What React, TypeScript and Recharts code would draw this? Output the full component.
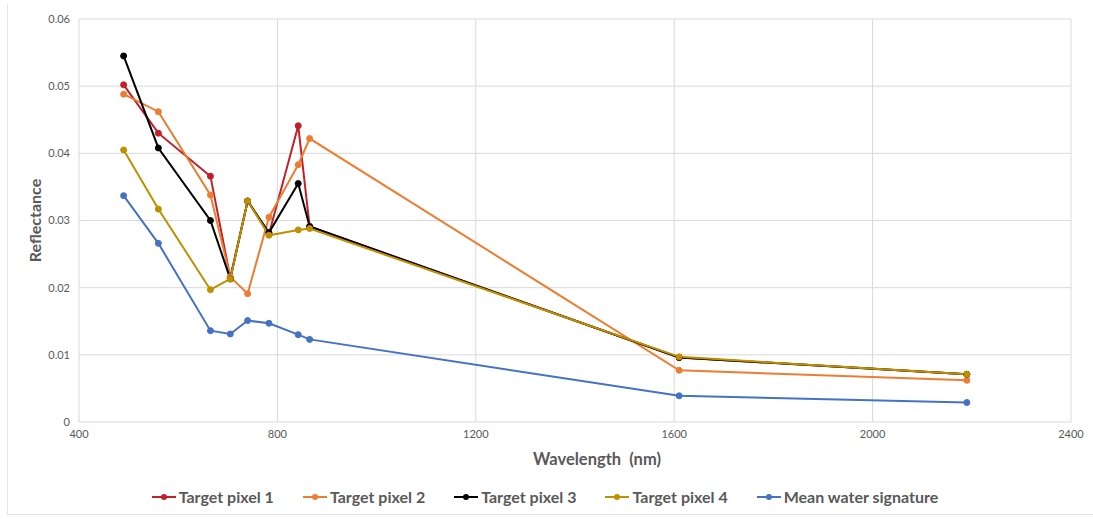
import { LineChart, Line, XAxis, YAxis, CartesianGrid, Legend } from "recharts";

// Sentinel-2 band centres (nm)
const wavelengths = [490, 560, 665, 705, 740, 783, 842, 865, 1610, 2190];

const targetPixel1 = [0.0502, 0.043, 0.0366, 0.0215, 0.0329, 0.028, 0.0441, 0.0291, 0.0096, 0.0071];
const targetPixel2 = [0.0488, 0.0462, 0.0338, 0.0216, 0.0191, 0.0305, 0.0383, 0.0422, 0.0077, 0.0062];
const targetPixel3 = [0.0545, 0.0408, 0.03, 0.0213, 0.0329, 0.0282, 0.0355, 0.0291, 0.0096, 0.0071];
const targetPixel4 = [0.0405, 0.0317, 0.0197, 0.0213, 0.0329, 0.0278, 0.0286, 0.0288, 0.0097, 0.0071];
const meanWater = [0.0337, 0.0266, 0.0136, 0.0131, 0.0151, 0.0147, 0.013, 0.0123, 0.0039, 0.0029];

const xTicks = [400, 800, 1200, 1600, 2000, 2400];
const yTicks = [0, 0.01, 0.02, 0.03, 0.04, 0.05, 0.06];

const series = [
  { key: "p1", name: "Target pixel 1", color: "#c0202a", values: targetPixel1 },
  { key: "p2", name: "Target pixel 2", color: "#ed7d31", values: targetPixel2 },
  { key: "p3", name: "Target pixel 3", color: "#000000", values: targetPixel3 },
  { key: "p4", name: "Target pixel 4", color: "#bf9000", values: targetPixel4 },
  { key: "mean", name: "Mean water signature", color: "#4472c4", values: meanWater },
];

const data = wavelengths.map((w, i) => {
  const row: Record<string, number> = { w };
  series.forEach((s) => (row[s.key] = s.values[i]));
  return row;
});

// legend drawn in series order (recharts would sort it by name)
const LegendContent = () => (
  <div style={{ display: "flex", justifyContent: "center", gap: 28, paddingTop: 15, paddingLeft: 18 }}>
    {series.map((s) => (
      <div key={s.key} style={{ display: "flex", alignItems: "center" }}>
        <svg width={26} height={10} style={{ marginRight: 2 }}>
          <line x1={1} y1={5} x2={25} y2={5} stroke={s.color} strokeWidth={2} />
          <circle cx={13} cy={5} r={3} fill={s.color} />
        </svg>
        <span style={{ color: "#595959", fontSize: 16, fontWeight: 700 }}>{s.name}</span>
      </div>
    ))}
  </div>
);

export default function App() {
  return (
    <div style={{ position: "absolute", left: 0, top: 0, width: 1093, height: 519, background: "#fff" }}>
      <div
        style={{
          position: "absolute",
          left: 7,
          top: 4,
          width: 1086,
          height: 510,
          borderLeft: "1px solid #e4e4e4",
          borderBottom: "1px solid #e4e4e4",
        }}
      />
      <LineChart
        width={1093}
        height={519}
        data={data}
        margin={{ top: 19, right: 22, left: 0, bottom: 0 }}
        style={{ fontFamily: "Lato, 'Open Sans', sans-serif" }}
      >
        <CartesianGrid stroke="#d9d9d9" />
        <XAxis
          dataKey="w"
          type="number"
          domain={[400, 2400]}
          ticks={xTicks}
          height={50}
          axisLine={false}
          tickLine={false}
          tick={{ fill: "#595959", fontSize: 11 }}
          label={{
            value: "Wavelength\u00a0\u00a0(nm)",
            position: "insideBottom",
            offset: 7,
            dx: 22,
            style: { fill: "#595959", fontSize: 16.5, fontWeight: 700 },
          }}
        />
        <YAxis
          type="number"
          domain={[0, 0.06]}
          ticks={yTicks}
          width={79}
          axisLine={false}
          tickLine={false}
          tickMargin={3}
          tick={{ fill: "#595959", fontSize: 11 }}
          tickFormatter={(v: number) => (v === 0 ? "0" : v.toFixed(2))}
          label={{
            value: "Reflectance",
            angle: -90,
            position: "insideLeft",
            offset: 35,
            style: { fill: "#595959", fontSize: 16, fontWeight: 700, textAnchor: "middle" },
          }}
        />
        <Legend verticalAlign="bottom" height={47} content={<LegendContent />} />
        {series.map((s) => (
          <Line
            key={s.key}
            dataKey={s.key}
            name={s.name}
            stroke={s.color}
            strokeWidth={2}
            dot={{ r: 3, fill: s.color, stroke: s.color, strokeWidth: 1 }}
            isAnimationActive={false}
          />
        ))}
      </LineChart>
    </div>
  );
}
